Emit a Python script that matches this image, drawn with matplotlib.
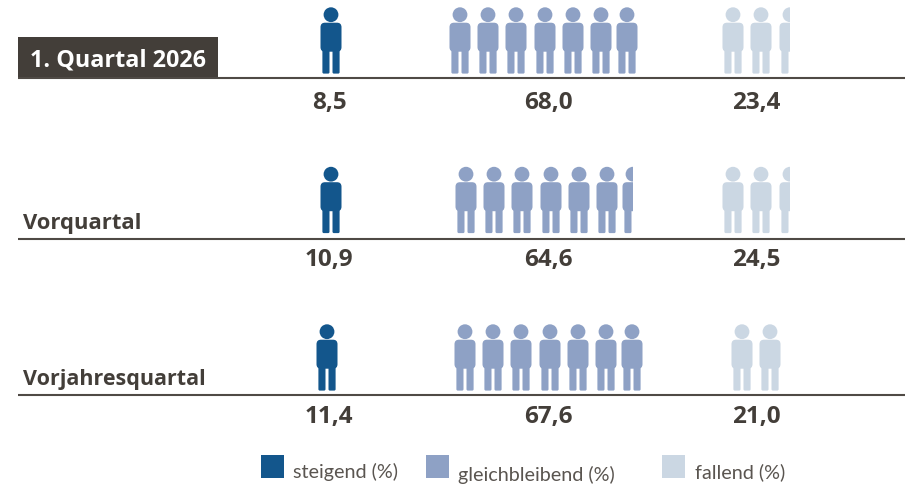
import matplotlib
matplotlib.use("Agg")
from matplotlib import pyplot as plt
from matplotlib.patches import Circle, FancyBboxPatch, Rectangle

# values, in percent
periods = ["1. Quartal 2026", "Vorquartal", "Vorjahresquartal"]
steigend = ["8,5", "10,9", "11,4"]
gleich = ["68,0", "64,6", "67,6"]
fallend = ["23,4", "24,5", "21,0"]

# how many figures are shown per row, .5 means the last one is cut in half
n_steigend = [1, 1, 1]
n_gleich = [7, 6.5, 7]
n_fallend = [2.5, 2.5, 2]

legend_labels = ["steigend (%)", "gleichbleibend (%)", "fallend (%)"]

BLUE = "#13568c"
MID = "#8ea1c5"
LIGHT = "#cbd7e3"
DARK = "#433e39"

# layout in pixels
rule_y = [78.5, 239.5, 396]
value_y = [102.5, 260.5, 417.5]
foot_y = [74.7, 234.2, 391.7]
blue_x = [331, 331, 327]
mid_x = [460, 466, 465]
light_x = [733, 733, 742]
mid_steps = [0, 28, 56, 85, 113, 141, 167]
light_steps = [0, 28, 57]


def person(ax, x, foot, color, part=1):
    """one figure, part < 1 cuts it off on the right"""
    clip = Rectangle((x - 11, foot - 70), 22 * part, 72, transform=ax.transData)
    shapes = [
        Circle((x, foot - 59), 7.4),
        FancyBboxPatch((x - 7.5, foot - 48), 15, 23, boxstyle="round,pad=3,rounding_size=4.5"),
        FancyBboxPatch((x - 7.2, foot - 26), 4.3, 24.5, boxstyle="round,pad=1.4,rounding_size=1.4"),
        FancyBboxPatch((x + 2.9, foot - 26), 4.3, 24.5, boxstyle="round,pad=1.4,rounding_size=1.4"),
    ]
    for s in shapes:
        s.set_facecolor(color)
        s.set_edgecolor("none")
        ax.add_patch(s)
        s.set_clip_path(clip)


def row(ax, start, steps, count, foot, color):
    for i in range(int(count + 0.5)):
        part = min(1, count - i)
        person(ax, start + steps[i], foot, color, part)


fig = plt.figure(figsize=(9.08, 4.85), dpi=100)
ax = fig.add_axes([0, 0, 1, 1])
ax.set_xlim(0, 908)
ax.set_ylim(485, 0)
ax.axis("off")

for i in range(3):
    ax.plot([18, 905], [rule_y[i], rule_y[i]], color="#4f4a45", lw=1.5, solid_capstyle="butt")
    row(ax, blue_x[i], [0], n_steigend[i], foot_y[i], BLUE)
    row(ax, mid_x[i], mid_steps, n_gleich[i], foot_y[i], MID)
    row(ax, light_x[i], light_steps, n_fallend[i], foot_y[i], LIGHT)
    for x, vals in zip([329, 548, 756], [steigend, gleich, fallend]):
        ax.text(x, value_y[i], vals[i], ha="center", va="center",
                fontsize=17.5, fontweight="bold", family="Open Sans", color=DARK)

ax.add_patch(Rectangle((18, 38), 200, 40, color=DARK, lw=0))
ax.text(30, 66, periods[0], fontsize=16.8, fontweight="bold", family="Open Sans", color="white")
ax.text(23, 229, periods[1], fontsize=15.8, fontweight="bold", family="Open Sans", color=DARK)
ax.text(23, 385, periods[2], fontsize=15.5, fontweight="bold", family="Open Sans", color=DARK)

# legend
for x, c in zip([261, 426, 662], [BLUE, MID, LIGHT]):
    ax.add_patch(Rectangle((x, 456), 23, 23, color=c, lw=0))
for x, y, label in zip([293, 458, 695], [478, 481, 478], legend_labels):
    ax.text(x, y, label, fontsize=14.2, family="Lato", color="#5a5550")

fig.savefig("out.png", dpi=100)
